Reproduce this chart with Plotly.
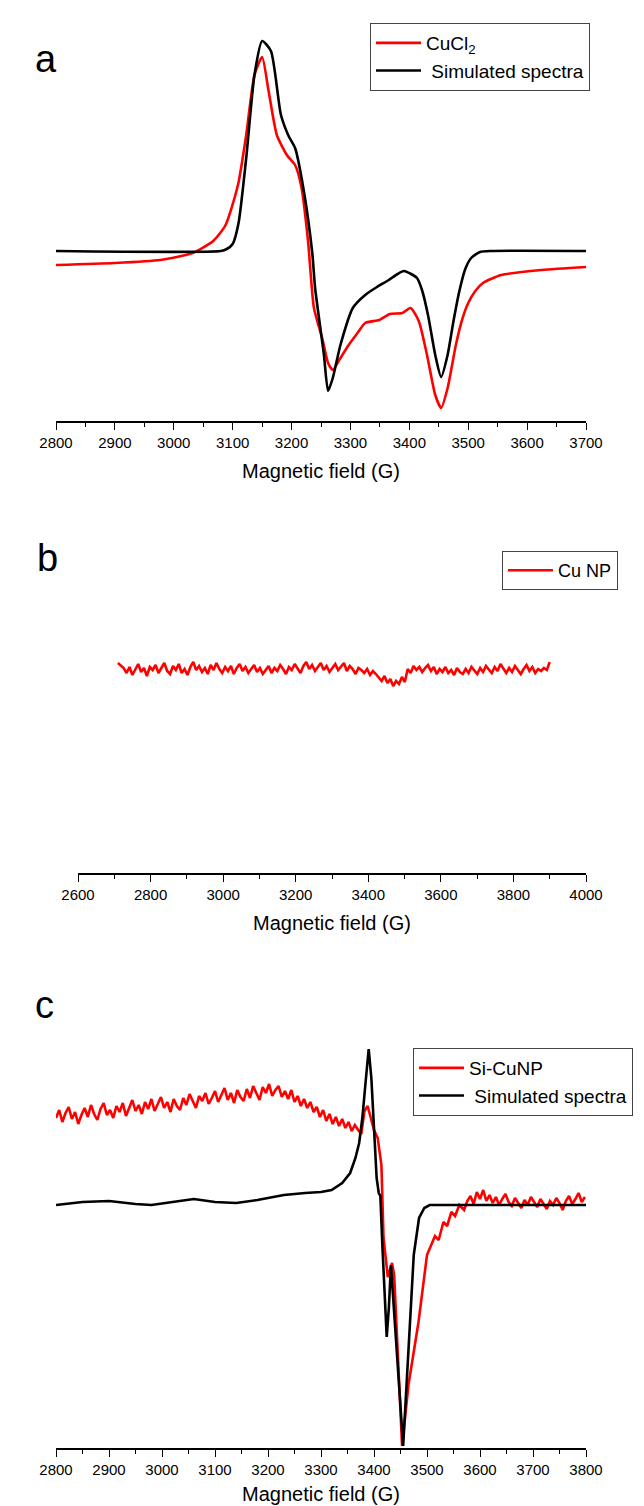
import numpy as np
import plotly.graph_objects as go

W, H = 644, 1506
FONT = "Liberation Sans, Arial, sans-serif"
RED = "#ff0000"
BLACK = "#000000"

# ---------------- Panel a : CuCl2 (heights above x-axis, arbitrary units) ----------------
a_sim_field = [2800, 3080, 3090, 3100, 3110, 3123, 3137, 3150, 3165, 3182, 3195, 3206, 3220,
               3235, 3240, 3255, 3262, 3270, 3283, 3304, 3325, 3345, 3365, 3380, 3391, 3413,
               3422, 3432, 3444, 3454, 3465, 3475, 3485, 3495, 3505, 3520, 3540, 3700]
a_sim_val = [170, 170, 172, 177, 198, 263, 346, 380, 370, 306, 285, 273, 233,
             169, 133, 66, 30, 43, 76, 113, 126, 134, 141, 147, 150, 143,
             130, 105, 66, 44, 66, 100, 130, 152, 163, 169, 170, 170]

a_exp_field = [2800, 2900, 2977, 3032, 3067, 3088, 3109, 3123, 3137, 3150, 3161, 3175, 3192,
               3206, 3217, 3228, 3238, 3252, 3262, 3270, 3282, 3297, 3312, 3325, 3349, 3367,
               3388, 3402, 3416, 3430, 3444, 3454, 3465, 3479, 3490, 3500, 3512, 3525, 3556,
               3625, 3700]
a_exp_val = [156, 158, 161, 168, 180, 196, 236, 286, 346, 364, 330, 286, 266,
             256, 233, 180, 113, 83, 58, 51, 62, 76, 88, 98, 101, 107,
             108, 113, 100, 66, 26, 13, 33, 76, 102, 118, 130, 138, 146,
             151, 154]

# ---------------- Panel b : Cu NP ----------------
b_field_start, b_field_end = 2710, 3900
b_exp_val = [
    210, 207, 205, 200, 206, 198, 204, 209, 201, 205, 197, 206, 203, 208, 200,
    205, 210, 202, 199, 207, 203, 209, 200, 204, 198, 206, 211, 203, 207, 201,
    205, 199, 208, 203, 210, 204, 200, 206, 202, 207, 199, 205, 209, 202, 206,
    200, 204, 208, 201, 205, 199, 203, 207, 200, 205, 202, 208, 204, 199, 206,
    203, 209, 205, 200, 207, 211, 204, 208, 202, 206, 210, 203, 207, 201, 205,
    209, 203, 206, 210, 202, 207, 204, 199, 205, 203, 200, 204, 198, 202, 199,
    195, 192, 197, 190, 194, 187, 192, 189, 196, 191, 204, 200, 207, 203, 206,
    201, 205, 208, 202, 206, 199, 204, 201, 206, 200, 203, 198, 205, 201, 199,
    204, 200, 206, 202, 199, 205, 201, 207, 203, 200, 206, 202, 209, 204, 200,
    205, 201, 207, 203, 199, 204, 208, 202, 206, 200, 204, 202, 205, 203, 211,
]

# ---------------- Panel c : Si-CuNP ----------------
c_exp_left_val = [   # 2800 .. 3400, every 6 G
    330, 338, 326, 335, 341, 329, 336, 324, 333, 340,
    331, 343, 334, 328, 339, 345, 333, 338, 330, 342,
    336, 345, 332, 340, 348, 337, 343, 334, 346, 339,
    349, 337, 344, 351, 340, 346, 336, 349, 342, 338,
    350, 343, 354, 346, 340, 352, 347, 355, 344, 350,
    357, 346, 353, 360, 348, 355, 345, 358, 351, 347,
    359, 350, 362, 354, 348, 361, 355, 364, 352, 358,
    362, 351, 357, 349, 358, 346, 352, 342, 349, 340,
    346, 336, 341, 331, 338, 327, 334, 324, 331, 322,
    329, 320, 326, 317, 323, 318, 314, 337, 342, 330, 318,
]
c_exp_mid_field = [3407, 3414, 3418, 3426, 3434, 3438, 3453, 3465, 3484, 3500, 3508, 3515,
                   3522, 3531, 3538, 3546, 3553, 3561]
c_exp_mid_val = [310, 283, 210, 171, 185, 173, 2, 63, 126, 193, 203, 212,
                 208, 226, 222, 236, 232, 243]
c_exp_right_val = [   # 3570 .. 3798, every 6 G
    238, 247, 252, 244, 256, 249, 258, 247, 253, 245, 251, 243, 249,
    254, 246, 242, 250, 245, 240, 248, 243, 251, 246, 241, 249, 244,
    239, 247, 243, 250, 245, 238, 247, 252, 244, 249, 255, 246, 251,
]

c_sim_field = [2800, 2850, 2900, 2950, 2980, 3020, 3060, 3100, 3140, 3180, 3230, 3270, 3300,
               3320, 3340, 3355, 3365, 3372, 3378, 3384, 3390, 3395, 3400, 3405, 3409, 3412,
               3416, 3420, 3424, 3428, 3432, 3455, 3465, 3475, 3485, 3495, 3505, 3800]
c_sim_val = [243, 246, 247, 244, 243, 246, 249, 246, 245, 248, 253, 255, 256,
             258, 265, 275, 290, 305, 330, 365, 399, 370, 320, 270, 255, 252,
             200, 150, 111, 140, 183, 2, 100, 193, 230, 240, 243, 243]

# sampling grids of the recorded spectra
b_field = np.linspace(b_field_start, b_field_end, len(b_exp_val))
c_exp_field = (list(np.arange(len(c_exp_left_val)) * 6 + 2800) + c_exp_mid_field +
               list(np.arange(len(c_exp_right_val)) * 6 + 3570))
c_exp_val = c_exp_left_val + c_exp_mid_val + c_exp_right_val


def fy(py):
    return 1 - py / H


def fx(px):
    return px / W


fig = go.Figure()
LW = 2.6
fig.add_trace(go.Scatter(x=a_exp_field, y=a_exp_val, mode="lines", name="CuCl<sub>2</sub>",
                         line=dict(color=RED, width=LW, shape="spline", smoothing=0.6),
                         xaxis="x", yaxis="y", legend="legend"))
fig.add_trace(go.Scatter(x=a_sim_field, y=a_sim_val, mode="lines", name=" Simulated spectra",
                         line=dict(color=BLACK, width=LW, shape="spline", smoothing=0.6),
                         xaxis="x", yaxis="y", legend="legend"))
fig.add_trace(go.Scatter(x=b_field, y=b_exp_val, mode="lines", name="Cu NP",
                         line=dict(color=RED, width=LW),
                         xaxis="x2", yaxis="y2", legend="legend2"))
fig.add_trace(go.Scatter(x=c_exp_field, y=c_exp_val, mode="lines", name="Si-CuNP",
                         line=dict(color=RED, width=LW),
                         xaxis="x3", yaxis="y3", legend="legend3"))
fig.add_trace(go.Scatter(x=c_sim_field, y=c_sim_val, mode="lines", name=" Simulated spectra",
                         line=dict(color=BLACK, width=LW),
                         xaxis="x3", yaxis="y3", legend="legend3"))

def xaxis_style(px0, px1, rng, dtick, standoff=14):
    return dict(domain=[fx(px0), fx(px1)], range=rng, dtick=dtick, tick0=rng[0],
                showline=True, linecolor="black", linewidth=1.5, mirror=False,
                ticks="outside", ticklen=7, tickwidth=1.4, tickcolor="black",
                minor=dict(ticks="outside", ticklen=4, tickwidth=1.2, tickcolor="black",
                           dtick=dtick / 2, showgrid=False),
                showgrid=False, zeroline=False,
                tickfont=dict(family=FONT, size=15, color="black"),
                title=dict(text="Magnetic field (G)", font=dict(family=FONT, size=20, color="black"),
                           standoff=standoff),
                fixedrange=True)

def yaxis_style(py_axis, py_top, anchor):
    return dict(domain=[fy(py_axis), fy(py_top)], range=[0, py_axis - py_top], visible=False,
                anchor=anchor, fixedrange=True)

fig.update_layout(
    width=W, height=H, margin=dict(l=0, r=0, t=0, b=0, autoexpand=False),
    paper_bgcolor="white", plot_bgcolor="white",
    font=dict(family=FONT, color="black"),
    xaxis=dict(**xaxis_style(48, 578, [2800, 3700], 100), anchor="y"),
    yaxis=yaxis_style(413, 20, "x"),
    xaxis2=dict(**xaxis_style(70, 578, [2600, 4000], 200), anchor="y2"),
    yaxis2=yaxis_style(865, 540, "x2"),
    xaxis3=dict(**xaxis_style(48, 578, [2800, 3800], 100, standoff=10), anchor="y3"),
    yaxis3=yaxis_style(1440, 1027, "x3"),
    legend=dict(x=fx(582), y=fy(15), xanchor="right", yanchor="top",
                bordercolor="#444", borderwidth=1, bgcolor="white",
                font=dict(family=FONT, size=19, color="black"), itemwidth=45,
                tracegroupgap=0),
    legend2=dict(x=fx(610), y=fy(543), xanchor="right", yanchor="top",
                 bordercolor="#444", borderwidth=1, bgcolor="white",
                 font=dict(family=FONT, size=18, color="black"), itemwidth=45),
    legend3=dict(x=fx(405), y=fy(1040), xanchor="left", yanchor="top",
                 bordercolor="#444", borderwidth=1, bgcolor="white",
                 font=dict(family=FONT, size=19, color="black"), itemwidth=45),
    showlegend=True,
    annotations=[
        dict(text="a", x=fx(25), y=fy(28), xref="paper", yref="paper", showarrow=False,
             font=dict(family=FONT, size=38, color="black")),
        dict(text="b", x=fx(27), y=fy(550), xref="paper", yref="paper", showarrow=False,
             font=dict(family=FONT, size=38, color="black")),
        dict(text="c", x=fx(25), y=fy(1020), xref="paper", yref="paper", showarrow=False,
             font=dict(family=FONT, size=38, color="black")),
    ],
)

fig.write_html("out.html")
